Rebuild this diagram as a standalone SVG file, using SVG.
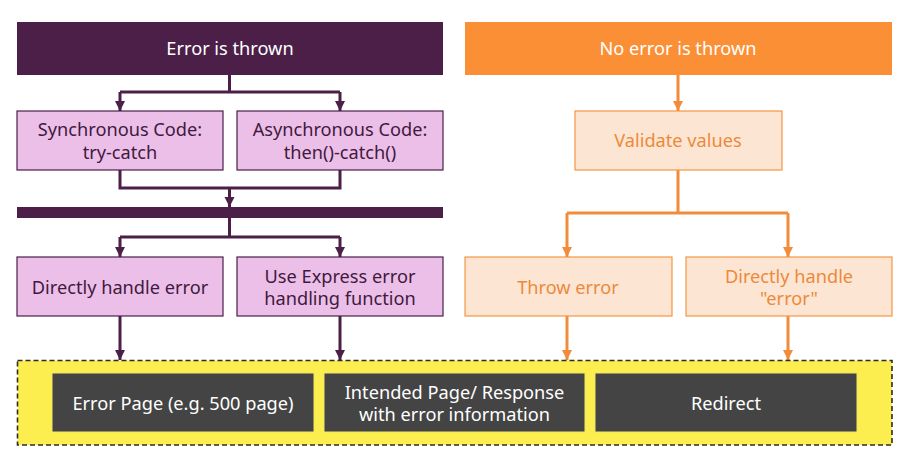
<svg xmlns="http://www.w3.org/2000/svg" width="923" height="452" viewBox="0 0 923 452">
<defs>
<style>
text{font-family:"Noto Sans","Liberation Sans",sans-serif;font-size:18.2px;text-anchor:middle;dominant-baseline:central}
.hdrP{fill:#4b1f48}
.hdrO{fill:#fb8f35}
.pink{fill:#ecbfe9;stroke:#4b1f48;stroke-width:1.2}
.lor{fill:#fde5d3;stroke:#f59543;stroke-width:1.2}
.dark{fill:#444444;stroke:#f2e560;stroke-width:1}
.tw{fill:#ffffff}
.tp{fill:#3f1a3d}
.to{fill:#ec8a3c}
.cp{fill:none;stroke:#4b1f48;stroke-width:3}
.co{fill:none;stroke:#f28b3a;stroke-width:3}
</style>
<marker id="ap" viewBox="0 0 10 10" refX="10" refY="5" markerWidth="3.5" markerHeight="3.5" markerUnits="strokeWidth" orient="auto"><path d="M0,0 L10,5 L0,10 z" fill="#4b1f48"/></marker>
<marker id="ao" viewBox="0 0 10 10" refX="10" refY="5" markerWidth="3.5" markerHeight="3.5" markerUnits="strokeWidth" orient="auto"><path d="M0,0 L10,5 L0,10 z" fill="#f28b3a"/></marker>
</defs>
<rect width="923" height="452" fill="#ffffff"/>

<g id="connectors">
<path class="cp" d="M229.5,75 V92 M120,92 H340" />
<path class="cp" d="M120,92 V111" marker-end="url(#ap)"/>
<path class="cp" d="M340,92 V111" marker-end="url(#ap)"/>
<path class="cp" d="M120,170 V188 H340 V170"/>
<path class="cp" d="M229.5,188 V207" marker-end="url(#ap)"/>
<path class="cp" d="M229.5,218 V237 M120,237 H340"/>
<path class="cp" d="M120,237 V257" marker-end="url(#ap)"/>
<path class="cp" d="M340,237 V257" marker-end="url(#ap)"/>
<path class="cp" d="M120,316 V360" marker-end="url(#ap)"/>
<path class="cp" d="M340,316 V360" marker-end="url(#ap)"/>
<path class="co" d="M678,75 V111" marker-end="url(#ao)"/>
<path class="co" d="M678,170 V213 M567,213 H788"/>
<path class="co" d="M567,213 V257" marker-end="url(#ao)"/>
<path class="co" d="M788,213 V257" marker-end="url(#ao)"/>
<path class="co" d="M567,316 V360" marker-end="url(#ao)"/>
<path class="co" d="M788,316 V360" marker-end="url(#ao)"/>
</g>

<g id="error-thrown"><rect class="hdrP" x="17" y="22" width="426" height="53"/><text class="tw" x="230" y="48">Error is thrown</text></g>
<g id="sync"><rect class="pink" x="17" y="111" width="206" height="59"/><text class="tp" x="120" y="129">Synchronous Code:</text><text class="tp" x="120" y="152">try-catch</text></g>
<g id="async"><rect class="pink" x="237" y="111" width="206" height="59"/><text class="tp" x="340" y="129">Asynchronous Code:</text><text class="tp" x="340" y="152">then()-catch()</text></g>
<g id="bar"><rect class="hdrP" x="17" y="207" width="426" height="11"/></g>
<g id="direct-handle"><rect class="pink" x="17" y="257" width="206" height="59"/><text class="tp" x="120" y="287">Directly handle error</text></g>
<g id="express-handler"><rect class="pink" x="237" y="257" width="206" height="59"/><text class="tp" x="340" y="276">Use Express error</text><text class="tp" x="340" y="298">handling function</text></g>

<g id="no-error"><rect class="hdrO" x="465" y="22" width="427" height="53"/><text class="tw" x="678" y="48">No error is thrown</text></g>
<g id="validate"><rect class="lor" x="575" y="111" width="207" height="59"/><text class="to" x="678" y="140">Validate values</text></g>
<g id="throw-error"><rect class="lor" x="465" y="257" width="207" height="59"/><text class="to" x="568" y="287">Throw error</text></g>
<g id="direct-handle-o"><rect class="lor" x="686" y="257" width="206" height="59"/><text class="to" x="789" y="276">Directly handle</text><text class="to" x="789" y="298">"error"</text></g>

<g id="outcomes"><rect x="17.5" y="360.5" width="874.5" height="84.5" fill="#fdee4f" stroke="#2b2b2b" stroke-width="1.6" stroke-dasharray="5,3"/></g>
<g id="error-page"><rect class="dark" x="52" y="373" width="262" height="59"/><text class="tw" x="183" y="403">Error Page (e.g. 500 page)</text></g>
<g id="intended"><rect class="dark" x="324" y="373" width="261" height="59"/><text class="tw" x="454.5" y="392">Intended Page/ Response</text><text class="tw" x="454.5" y="414">with error information</text></g>
<g id="redirect"><rect class="dark" x="595" y="373" width="262" height="59"/><text class="tw" x="726" y="403">Redirect</text></g>
</svg>
